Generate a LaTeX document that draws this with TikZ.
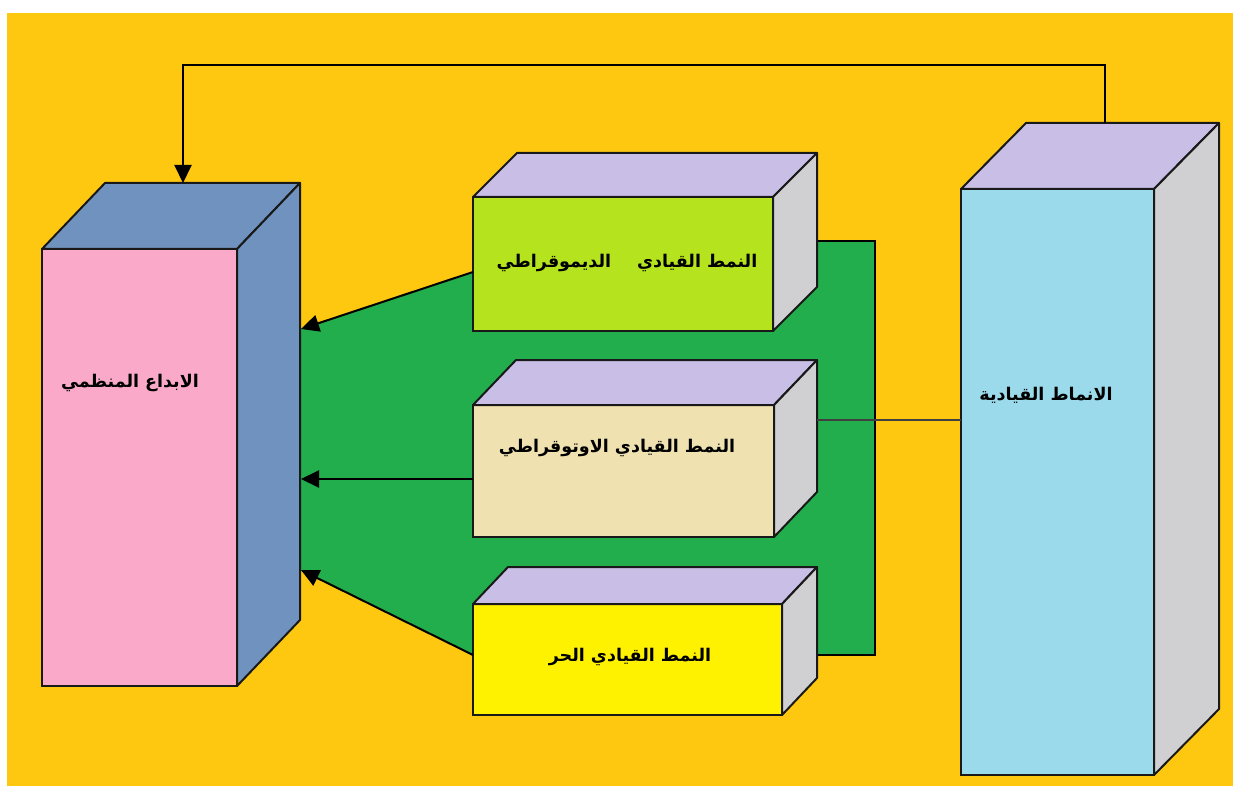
\documentclass[tikz,border=0pt]{standalone}
\usepackage{fontspec}
\newfontfamily\arabicfont[Script=Arabic]{DejaVu Sans}
\TeXXeTstate=1
\usetikzlibrary{arrows.meta,calc}
\definecolor{bgyellow}{RGB}{254,199,16}
\definecolor{pinkfront}{RGB}{250,170,200}
\definecolor{bluesteel}{RGB}{111,147,190}
\definecolor{lavender}{RGB}{200,190,230}
\definecolor{sidegray}{RGB}{208,208,210}
\definecolor{skyfront}{RGB}{155,218,234}
\definecolor{greenarea}{RGB}{34,174,76}
\definecolor{limefront}{RGB}{181,227,30}
\definecolor{beigefront}{RGB}{239,226,176}
\definecolor{yellowfront}{RGB}{255,242,0}
\definecolor{boxline}{RGB}{25,25,25}
\newcommand\mycuboid[9]{%
  \node[frontface, fill=#8, minimum width={(#4)-(#2)}, minimum height={(#5)-(#3)}]
    (#1) at ({((#2)+(#4))/2},{((#3)+(#5))/2}) {};
  \filldraw[face, fill=#9] (#1.north west) -- ++(#6,#7) -- ($(#1.north east)+(#6,#7)$) -- (#1.north east) -- cycle;
}
\newcommand\myside[4]{%
  \filldraw[face, fill=#4] (#1.north east) -- ++(#2,#3) -- ($(#1.south east)+(#2,#3)$) -- (#1.south east) -- cycle;
}
\tikzset{
  frontface/.style={draw=boxline, line width=2.2pt, inner sep=0pt, outer sep=0pt, rectangle},
  face/.style={draw=boxline, line width=2pt, line join=round},
  arr/.style={draw=black, line width=2pt, -{Triangle[length=18pt,width=17pt]}},
  conn/.style={draw=black, line width=2pt},
  lbl/.style={font=\arabicfont\bfseries\fontsize{17.5}{21}\selectfont, text=black, inner sep=0pt}
}
\begin{document}
\begin{tikzpicture}[x=1pt,y=-1pt]
\useasboundingbox (0,0) rectangle (1233,786);
\fill[white] (0,0) rectangle (1233,786);
\fill[bgyellow] (7,13) rectangle (1233,786);

% green backdrop
\fill[greenarea] (299,329) -- (473,272) -- (473,241) -- (875,241) -- (875,655) -- (473,655) -- (299,570) -- cycle;
\draw[conn, line width=2.4pt] (817,241) -- (875,241) -- (875,655) -- (817,655);

% left box
\mycuboid{org}{42}{249}{237}{686}{63}{-66}{pinkfront}{bluesteel}
\myside{org}{63}{-66}{bluesteel}
% right box
\mycuboid{pat}{961}{189}{1154}{775}{65}{-66}{skyfront}{lavender}
\myside{pat}{65}{-66}{sidegray}
% middle boxes
\mycuboid{dem}{473}{197}{773}{331}{44}{-44}{limefront}{lavender}
\myside{dem}{44}{-44}{sidegray}
\mycuboid{aut}{473}{405}{774}{537}{43}{-45}{beigefront}{lavender}
\myside{aut}{43}{-45}{sidegray}
\mycuboid{fre}{473}{604}{782}{715}{35}{-37}{yellowfront}{lavender}
\myside{fre}{35}{-37}{sidegray}

% connector end points
\coordinate (orgA) at (301,329);
\coordinate (orgB) at (301,479);
\coordinate (orgC) at (301,570);
\coordinate (orgTop) at (183,183);
\coordinate (patTop) at (1105,123);
\coordinate (autSide) at (817,420);
\coordinate (freFoot) at (473,655);

% arrows from the three styles
\draw[arr] ([yshift=-8pt]dem.west) -- (orgA);
\draw[arr] ([yshift=-8pt]aut.west) -- (orgB);
\draw[arr] (freFoot) -- (orgC);
\draw[arr] (patTop) |- (183,65) -- (orgTop);
\draw[conn, draw=black!75] (autSide) -- (pat.west |- autSide);

% labels
\node[lbl] (torg) at (130,383) {\beginR الابداع المنظمي\endR};
\node[lbl] (tdem) at (627,263) {\beginR النمط القيادي\hspace{26pt}الديموقراطي\endR};
\node[lbl] (taut) at (617,448) {\beginR النمط القيادي الاوتوقراطي\endR};
\node[lbl] (tfre) at (630,657) {\beginR النمط القيادي الحر\endR};
\node[lbl] (tpat) at (1046,395) {\beginR الانماط القيادية\endR};
\end{tikzpicture}
\end{document}
